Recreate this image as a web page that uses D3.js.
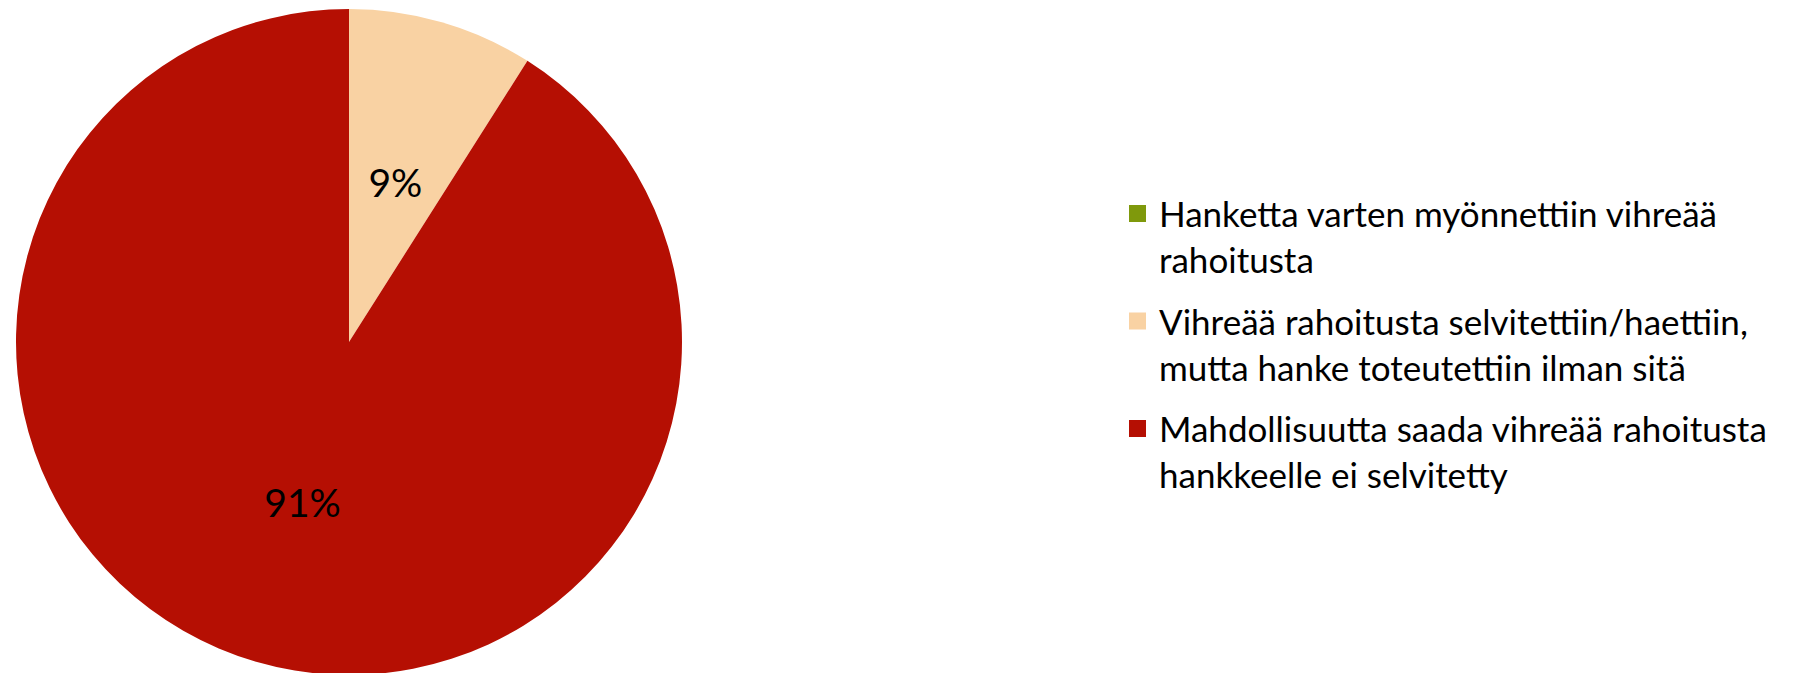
<!DOCTYPE html>
<html>
<head>
<meta charset="utf-8">
<script src="https://cdn.jsdelivr.net/npm/d3@7"></script>
<style>
  html, body { margin: 0; padding: 0; background: #fff; }
  #svg-container { width: 1796px; height: 673px; }
  text { font-family: Lato, "Open Sans", sans-serif; fill: #000; }
</style>
</head>
<body>
<div id="svg-container"></div>
<script>
////////////////////////////  Data  ////////////////////////////
const categories = [
  "Hanketta varten myönnettiin vihreää rahoitusta",
  "Vihreää rahoitusta selvitettiin/haettiin, mutta hanke toteutettiin ilman sitä",
  "Mahdollisuutta saada vihreää rahoitusta hankkeelle ei selvitetty",
];
// legend lines, wrapped as in the original
const legendLines = [
  ["Hanketta varten myönnettiin vihreää", "rahoitusta"],
  ["Vihreää rahoitusta selvitettiin/haettiin,", "mutta hanke toteutettiin ilman sitä"],
  ["Mahdollisuutta saada vihreää rahoitusta", "hankkeelle ei selvitetty"],
];
const values = [0, 9, 91]; // percent
const colors = ["#7f990c", "#f9d2a3", "#b50f03"];

////////////////////////////  Init  ////////////////////////////
const width = 1796;
const height = 673;

const svg = d3
  .select("#svg-container")
  .append("svg")
  .attr("width", width)
  .attr("height", height);

const radius = 333;
const cx = 349;
const cy = 342;

const color = d3.scaleOrdinal().domain(categories).range(colors);

const pie = d3
  .pie()
  .sort(null)
  .value((d) => d.value);

const arc = d3.arc().innerRadius(0).outerRadius(radius);

const data = categories.map((c, i) => ({ name: c, value: values[i] }));
const arcs = pie(data);

const g = svg.append("g").attr("transform", `translate(${cx}, ${cy})`);

g.selectAll("path")
  .data(arcs)
  .enter()
  .append("path")
  .attr("d", arc)
  .attr("fill", (d) => color(d.data.name));

// percent labels
g.selectAll(".pct")
  .data(arcs.filter((d) => d.data.value > 0))
  .enter()
  .append("text")
  .attr("class", "pct")
  .attr("x", (d) => arc.centroid(d)[0])
  .attr("y", (d) => arc.centroid(d)[1])
  .attr("text-anchor", "middle")
  .attr("dominant-baseline", "central")
  .style("font-size", "39px")
  .text((d) => d.data.value + "%");

////////////////////////////  Legend  ////////////////////////////
const legendX = 1129;
const legendY = 205;
const itemGap = 107.5;
const lineGap = 46;
const sq = 17;

const legend = svg
  .append("g")
  .attr("transform", `translate(${legendX}, ${legendY})`);

const items = legend
  .selectAll(".item")
  .data(categories)
  .enter()
  .append("g")
  .attr("class", "item")
  .attr("transform", (d, i) => `translate(0, ${i * itemGap})`);

items
  .append("rect")
  .attr("width", sq)
  .attr("height", sq)
  .attr("fill", (d) => color(d));

items
  .append("text")
  .attr("x", 30)
  .attr("y", 22)
  .style("font-size", "35px")
  .selectAll("tspan")
  .data((d, i) => legendLines[i])
  .enter()
  .append("tspan")
  .attr("x", 30)
  .attr("dy", (d, i) => (i === 0 ? 0 : lineGap))
  .text((d) => d);
</script>
</body>
</html>
